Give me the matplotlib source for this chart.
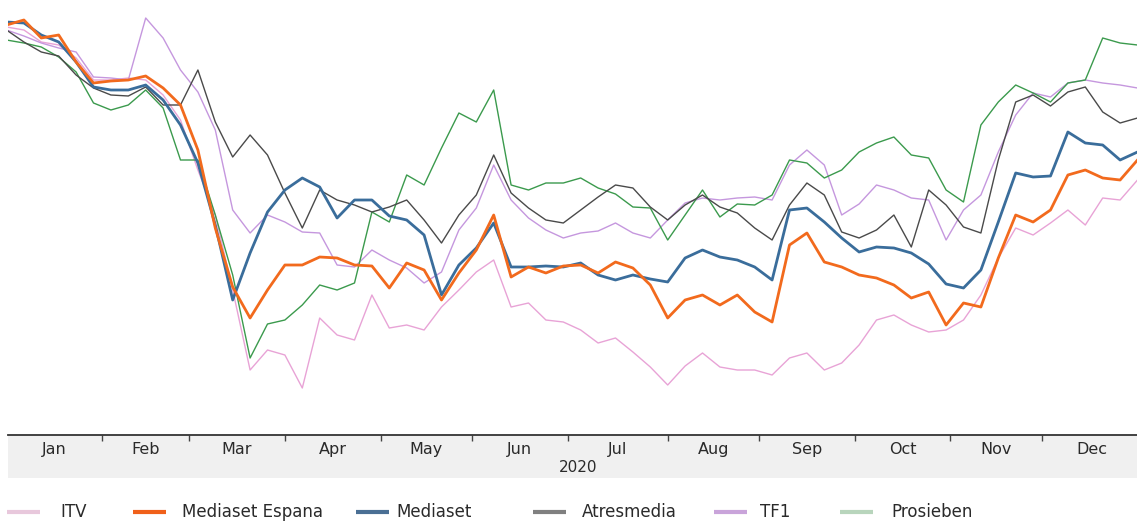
import numpy as np
import pandas as pd
import matplotlib
matplotlib.use("Agg")
import matplotlib.pyplot as plt
from matplotlib.lines import Line2D
from matplotlib.patches import Rectangle

# ---------------- data (rebased index, start = 100) ----------------
trading_days = pd.bdate_range("2020-01-02", "2020-12-31")
sample_days = trading_days[::4]

itv = [99.6, 99.0, 96.6, 96.0, 93.4, 89.0, 89.0, 89.4, 89.0, 86.0,
       81.0, 71.0, 62.0, 47.0, 31.0, 35.0, 34.0, 27.4, 41.4, 38.0,
       37.0, 46.0, 39.4, 40.0, 39.0, 43.6, 47.0, 50.6, 53.0, 43.6,
       44.4, 41.0, 40.6, 39.0, 36.4, 37.4, 34.6, 31.6, 28.0, 31.8,
       34.4, 31.6, 31.0, 31.0, 30.0, 33.4, 34.4, 31.0, 32.4, 36.0,
       41.0, 42.0, 40.0, 38.6, 39.0, 41.0, 46.0, 53.4, 59.4, 58.0,
       60.4, 63.0, 60.0, 65.4, 65.0, 69.0]

mediaset_espana = [100.0, 101.0, 97.4, 98.0, 92.6, 88.4, 88.8, 89.0, 89.8, 87.4,
                   84.0, 75.0, 59.4, 47.6, 41.4, 47.0, 52.0, 52.0, 53.6, 53.4,
                   52.0, 51.8, 47.4, 52.4, 51.0, 45.0, 50.4, 55.0, 62.0, 49.6,
                   51.6, 50.4, 51.8, 52.0, 50.4, 52.6, 51.4, 48.0, 41.4, 45.0,
                   46.0, 44.0, 46.0, 42.6, 40.6, 56.0, 58.4, 52.6, 51.6, 50.0,
                   49.4, 48.0, 45.4, 46.6, 40.0, 44.4, 43.6, 53.4, 62.0, 60.6,
                   63.0, 70.0, 71.0, 69.4, 69.0, 73.0]

mediaset = [100.6, 100.4, 98.0, 96.6, 92.6, 87.6, 87.0, 87.0, 88.0, 85.0,
            80.0, 72.4, 60.0, 45.0, 54.4, 62.6, 67.0, 69.4, 67.6, 61.4,
            65.0, 65.0, 61.8, 61.0, 58.0, 46.0, 52.0, 55.4, 60.4, 51.6,
            51.6, 51.8, 51.6, 52.4, 50.0, 49.0, 50.0, 49.2, 48.6, 53.4,
            55.0, 53.6, 53.0, 51.6, 49.0, 63.0, 63.4, 60.6, 57.4, 54.6,
            55.6, 55.4, 54.4, 52.2, 48.2, 47.4, 51.0, 60.6, 70.4, 69.6,
            69.8, 78.6, 76.4, 76.0, 73.0, 74.6]

atresmedia = [99.0, 96.6, 94.6, 93.8, 90.0, 87.4, 86.0, 85.8, 87.6, 84.0,
              84.0, 91.0, 80.6, 73.6, 78.0, 74.0, 66.4, 59.4, 67.0, 65.0,
              64.0, 62.6, 63.6, 65.0, 61.0, 56.4, 62.0, 66.0, 74.0, 66.4,
              63.4, 61.0, 60.4, 63.0, 65.6, 68.0, 67.4, 63.6, 61.0, 64.0,
              66.0, 63.6, 62.4, 59.4, 57.0, 64.0, 68.4, 66.0, 58.6, 57.4,
              59.0, 62.0, 55.6, 67.0, 64.0, 59.6, 58.4, 73.0, 84.6, 86.0,
              83.8, 86.6, 87.6, 82.6, 80.4, 81.4]

tf1 = [99.0, 97.8, 96.4, 95.4, 94.6, 89.6, 89.4, 89.0, 101.4, 97.4,
       91.0, 86.6, 79.0, 63.0, 58.4, 62.0, 60.6, 58.6, 58.4, 52.0,
       51.6, 55.0, 53.0, 51.4, 48.4, 50.6, 59.0, 63.4, 72.0, 65.0,
       61.4, 59.0, 57.4, 58.4, 58.8, 60.4, 58.4, 57.4, 61.0, 64.4,
       65.4, 65.0, 65.4, 65.6, 65.0, 72.0, 75.0, 72.0, 62.0, 64.2,
       68.0, 67.0, 65.4, 65.0, 57.0, 63.0, 66.0, 74.6, 82.0, 86.4,
       85.6, 88.4, 89.0, 88.4, 88.0, 87.4]

prosieben = [97.0, 96.4, 95.6, 93.6, 90.6, 84.4, 83.0, 84.0, 87.0, 83.4,
             73.0, 73.0, 62.0, 50.0, 33.4, 40.2, 41.0, 44.0, 48.0, 47.0,
             48.4, 62.6, 60.6, 70.0, 68.0, 75.4, 82.4, 80.6, 87.0, 68.0,
             67.0, 68.4, 68.4, 69.4, 67.4, 66.2, 63.6, 63.4, 57.0, 62.0,
             67.0, 61.6, 64.2, 64.0, 66.0, 73.0, 72.4, 69.4, 71.0, 74.6,
             76.4, 77.6, 74.0, 73.4, 67.0, 64.6, 80.0, 84.6, 88.0, 86.4,
             84.6, 88.4, 89.0, 97.4, 96.4, 96.0]

series_names = ["ITV", "Mediaset Espana", "Mediaset", "Atresmedia", "TF1", "Prosieben"]
month_labels = ["Jan", "Feb", "Mar", "Apr", "May", "Jun",
                "Jul", "Aug", "Sep", "Oct", "Nov", "Dec"]
year_label = "2020"

# ---------------- styles ----------------
line_colors = {
    "ITV": "#e8a3d6",
    "Mediaset Espana": "#f26a1d",
    "Mediaset": "#3a6d9b",
    "Atresmedia": "#4a4a4a",
    "TF1": "#c597de",
    "Prosieben": "#3b9a4d",
}
legend_colors = {
    "ITV": "#e8c8dc",
    "Mediaset Espana": "#f0601a",
    "Mediaset": "#4a6f94",
    "Atresmedia": "#808080",
    "TF1": "#c9a4da",
    "Prosieben": "#b8d5bc",
}
line_widths = {"ITV": 1.0, "Mediaset Espana": 2.0, "Mediaset": 2.0,
               "Atresmedia": 1.0, "TF1": 1.0, "Prosieben": 1.0}
series_values = {"ITV": itv, "Mediaset Espana": mediaset_espana, "Mediaset": mediaset,
                 "Atresmedia": atresmedia, "TF1": tf1, "Prosieben": prosieben}
draw_order = ["ITV", "TF1", "Prosieben", "Atresmedia", "Mediaset", "Mediaset Espana"]

W, H = 1137, 524
fig = plt.figure(figsize=(W / 100, H / 100), dpi=100)
fig.patch.set_facecolor("white")

axis_y = 435
ax = fig.add_axes([8 / W, (H - axis_y) / H, 1129 / W, axis_y / H])

x_idx = trading_days.get_indexer(sample_days)
for name in draw_order:
    ax.plot(x_idx, series_values[name], color=line_colors[name],
            lw=line_widths[name], solid_joinstyle="round")

# x axis: trading-day index, month boundaries
month_starts = []
for m in range(1, 13):
    month_starts.append(int(np.argmax(trading_days.month == m)))
month_edges = month_starts + [len(trading_days)]
month_mids = [(month_edges[k] + month_edges[k + 1]) / 2 for k in range(12)]

px0, ppd = 6.5, 4.35
ax.set_xlim((8 - px0) / ppd, (1137 - px0) / ppd)
ax.set_ylim(18, 105)

ax.set_xticks(month_starts[1:])
ax.set_xticklabels([])
ax.set_xticks(month_mids, minor=True)
ax.set_xticklabels(month_labels, minor=True, fontsize=11.5, color="#2a2a2a")
ax.tick_params(axis="x", which="major", direction="out", length=4, width=1.0, color="#444444")
ax.tick_params(axis="x", which="minor", length=0, pad=5)
ax.set_yticks([])
for s in ["left", "right", "top"]:
    ax.spines[s].set_visible(False)
ax.spines["bottom"].set_color("#333333")
ax.spines["bottom"].set_linewidth(1.3)

# grey date band
band = Rectangle((8 / W, (H - 478) / H), 1129 / W, 43 / H, transform=fig.transFigure,
                 facecolor="#f0f0f0", edgecolor="none", zorder=-1)
fig.patches.append(band)
fig.text(578 / W, (H - 468) / H, year_label, ha="center", va="center",
         fontsize=11, color="#2a2a2a")

# legend (manual layout)
leg_y = (H - 512) / H
handle_x = [7, 133, 356, 533, 714, 840]
text_x = [60, 182, 396, 582, 760, 891]
for name, hx, tx in zip(series_names, handle_x, text_x):
    fig.add_artist(Line2D([hx / W, (hx + 33) / W], [leg_y, leg_y], transform=fig.transFigure,
                          color=legend_colors[name], lw=3.0, solid_capstyle="butt"))
    fig.text(tx / W, leg_y, name, ha="left", va="center", fontsize=12, color="#2a2a2a")

fig.savefig("out.png", dpi=100, facecolor="white")
